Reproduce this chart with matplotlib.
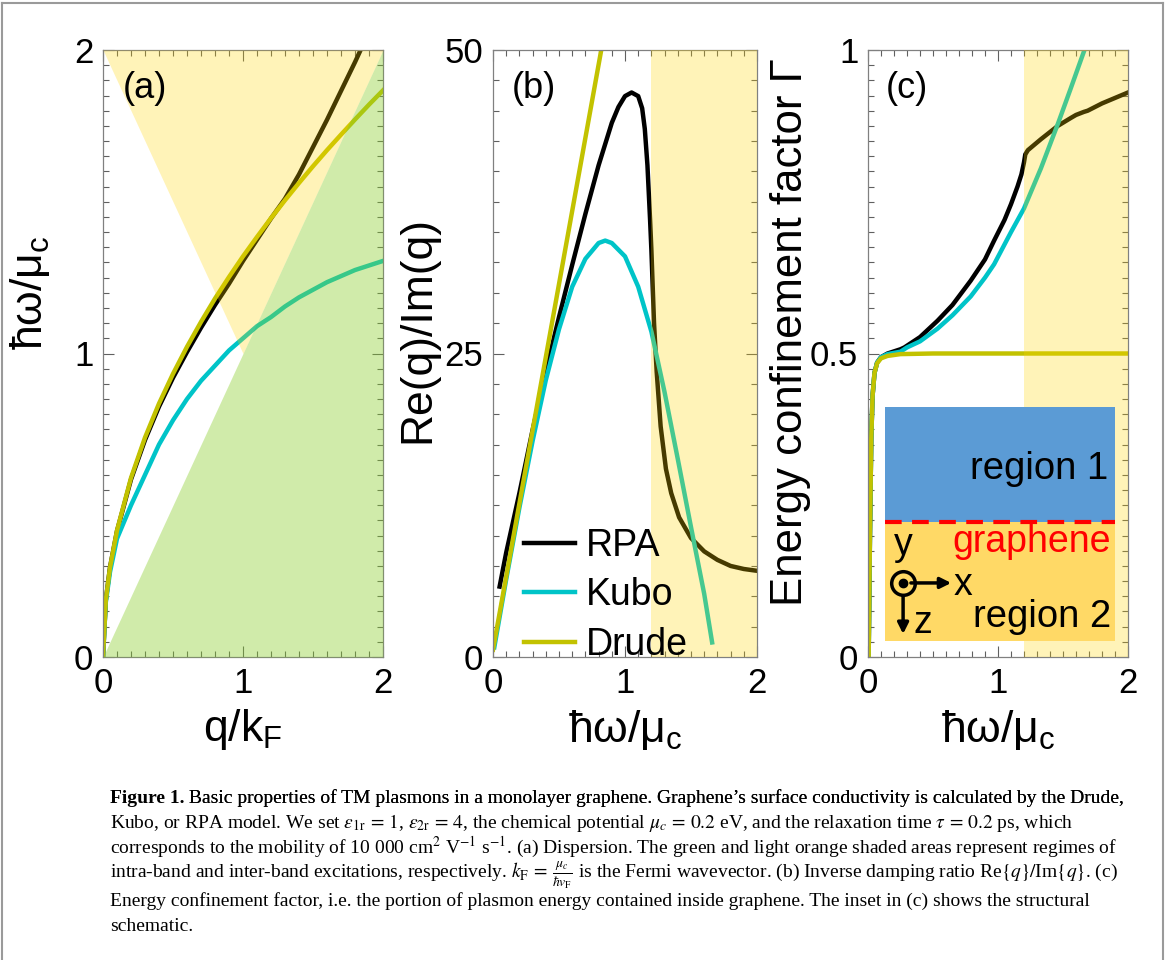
import numpy as np
import matplotlib.pyplot as plt
from matplotlib.patches import Rectangle
from matplotlib.lines import Line2D
from matplotlib.ticker import MultipleLocator, FuncFormatter

plt.rcParams['font.family'] = ['Liberation Sans', 'DejaVu Sans']
plt.rcParams['mathtext.fontset'] = 'custom'
plt.rcParams['mathtext.rm'] = 'Liberation Sans'
plt.rcParams['mathtext.it'] = 'Liberation Sans:italic'
plt.rcParams['mathtext.bf'] = 'Liberation Sans:bold'

# (a) dispersion, q/kF vs hbar*omega/mu_c
q_a = [0, 0.02, 0.05, 0.1, 0.2, 0.3, 0.4, 0.5, 0.6, 0.7, 0.8, 0.9, 1.0,
       1.1, 1.2, 1.3, 1.4, 1.5, 1.6, 1.7, 1.8, 1.9, 2.0]
drude_a = [0, 0.187, 0.295, 0.417, 0.59, 0.723, 0.835, 0.933, 1.022, 1.104, 1.181,
           1.252, 1.32, 1.384, 1.446, 1.505, 1.562, 1.617, 1.67, 1.721, 1.771, 1.82, 1.867]
rpa_a = [0, 0.187, 0.295, 0.415, 0.585, 0.715, 0.825, 0.92, 1.005, 1.085, 1.16,
         1.23, 1.305, 1.375, 1.445, 1.51, 1.59, 1.68, 1.77, 1.865, 1.96, 2.06, 2.16]
kubo_a = [0, 0.18, 0.28, 0.39, 0.5, 0.6, 0.7, 0.78, 0.85, 0.91, 0.96, 1.01, 1.05,
          1.09, 1.12, 1.155, 1.185, 1.21, 1.235, 1.255, 1.275, 1.29, 1.305]

# (b) inverse damping ratio Re(q)/Im(q)
w_rpa_b = [0.05, 0.1, 0.2, 0.3, 0.4, 0.5, 0.6, 0.7, 0.8, 0.9, 0.95, 1.0, 1.05, 1.1,
           1.13, 1.15, 1.17, 1.19, 1.2, 1.21, 1.22, 1.24, 1.27, 1.31, 1.35, 1.41,
           1.5, 1.6, 1.7, 1.8, 1.9, 2.0]
rpa_b = [5.8, 8.6, 13.5, 18.7, 23.5, 28.0, 32.3, 36.5, 40.5, 44.0, 45.3, 46.2, 46.5,
         46.2, 45.2, 43.5, 40.5, 36.0, 33.5, 30.5, 27.5, 23.5, 19.0, 15.5, 13.5, 11.5,
         9.8, 8.7, 8.0, 7.5, 7.25, 7.1]
w_kubo_b = [0.01, 0.1, 0.2, 0.3, 0.4, 0.5, 0.6, 0.7, 0.8, 0.85, 0.9, 1.0, 1.1, 1.2,
            1.3, 1.4, 1.5, 1.6, 1.66]
kubo_b = [0.8, 6.4, 12.3, 17.8, 22.8, 27.0, 30.5, 32.8, 34.1, 34.3, 34.1, 33.0, 30.5,
          26.8, 21.8, 16.3, 10.7, 5.2, 1.2]
w_drude_b = [0.0, 0.85]
drude_b = [0.6, 51.8]

# (c) energy confinement factor
w_c = [0.005, 0.015, 0.025, 0.035, 0.05, 0.07, 0.1, 0.15, 0.25, 0.28, 0.4, 0.535,
       0.65, 0.79, 0.9, 0.97, 1.05, 1.1, 1.15, 1.18, 1.2, 1.21, 1.23, 1.33, 1.46,
       1.56, 1.6, 1.66, 1.69, 1.8, 2.0]
rpa_c = [0.0, 0.2, 0.36, 0.43, 0.468, 0.485, 0.494, 0.5, 0.507, 0.51, 0.527, 0.554,
         0.58, 0.62, 0.655, 0.686, 0.72, 0.746, 0.775, 0.795, 0.815, 0.828, 0.835,
         0.853, 0.875, 0.888, 0.893, 0.898, 0.90, 0.912, 0.93]
w_kubo_c = [0.005, 0.015, 0.025, 0.035, 0.05, 0.07, 0.1, 0.15, 0.25, 0.3, 0.4, 0.535,
            0.65, 0.79, 0.9, 0.97, 1.1, 1.2, 1.33, 1.46, 1.56, 1.66]
kubo_c = [0.0, 0.2, 0.36, 0.43, 0.468, 0.485, 0.494, 0.499, 0.503, 0.51, 0.52, 0.541,
          0.563, 0.594, 0.625, 0.647, 0.70, 0.739, 0.805, 0.878, 0.937, 0.997]
w_drude_c = [0.005, 0.015, 0.025, 0.035, 0.05, 0.07, 0.1, 0.15, 0.25, 0.5, 1.0, 2.0]
drude_c = [0.0, 0.2, 0.36, 0.43, 0.468, 0.484, 0.492, 0.496, 0.499, 0.5, 0.5, 0.5]

labels = ['RPA', 'Kubo', 'Drude']
c_rpa, c_kubo, c_drude = 'black', '#00C4C8', '#C2C200'
shade_y, shade_g = '#FFD400', '#8ACF2C'
lw = 3.2

fig = plt.figure(figsize=(11.71, 9.6), dpi=100)
W, H = 1171, 960


def add_ax(l, r, t=50, b=657):
    return fig.add_axes([l / W, 1 - b / H, (r - l) / W, (b - t) / H])


def style(ax, ylim, ymaj, ymin):
    ax.set_xlim(0, 2)
    ax.set_ylim(*ylim)
    ax.xaxis.set_major_locator(MultipleLocator(1))
    ax.xaxis.set_minor_locator(MultipleLocator(0.1))
    ax.yaxis.set_major_locator(MultipleLocator(ymaj))
    ax.yaxis.set_minor_locator(MultipleLocator(ymin))
    ax.yaxis.set_major_formatter(FuncFormatter(lambda v, _: f'{v:g}'))
    ax.tick_params(which='both', direction='in', top=True, right=True,
                   color='#606060', width=0.8)
    ax.tick_params(which='major', length=8, labelsize=25, pad=7)
    ax.tick_params(which='minor', length=4)
    for s in ax.spines.values():
        s.set_color('#808080')
        s.set_linewidth(0.9)


xlab = 'ħω/μ$_\\mathrm{c}$'

# ---- (a)
ax1 = add_ax(103, 383)
ax1.plot(q_a, rpa_a, color=c_rpa, lw=lw, zorder=2)
ax1.plot(q_a, kubo_a, color=c_kubo, lw=lw, zorder=2)
ax1.plot(q_a, drude_a, color=c_drude, lw=lw, zorder=2)
qq = np.array([0, 1, 2])
ax1.fill_between(qq, np.maximum(qq, 2 - qq), 2, color=shade_y, alpha=0.28, lw=0, zorder=3)
ax1.fill_between(qq, 0, qq, color=shade_g, alpha=0.4, lw=0, zorder=3)
style(ax1, (0, 2), 1, 0.05)
ax1.set_xlabel('q/k$_\\mathrm{F}$', fontsize=32, va='center')
ax1.set_ylabel(xlab, fontsize=32, va='center')
ax1.xaxis.set_label_coords(0.5, -0.12)
ax1.yaxis.set_label_coords(-0.26, 0.6)
ax1.text(0.07, 0.965, '(a)', transform=ax1.transAxes, fontsize=26, va='top', zorder=6)

# ---- (b)
ax2 = add_ax(493, 757)
ax2.plot(w_rpa_b, rpa_b, color=c_rpa, lw=lw, zorder=2, label=labels[0])
ax2.plot(w_kubo_b, kubo_b, color=c_kubo, lw=lw, zorder=2, label=labels[1])
ax2.plot(w_drude_b, drude_b, color=c_drude, lw=lw, zorder=2, label=labels[2])
ax2.axvspan(1.2, 2, color=shade_y, alpha=0.28, lw=0, zorder=3)
style(ax2, (0, 50), 25, 2.5)
ax2.set_xlabel(xlab, fontsize=32, va='center')
ax2.set_ylabel('Re(q)/Im(q)', fontsize=32, va='center')
ax2.xaxis.set_label_coords(0.5, -0.12)
ax2.yaxis.set_label_coords(-0.285, 0.54)
ax2.text(0.07, 0.965, '(b)', transform=ax2.transAxes, fontsize=26, va='top', zorder=6)
leg = ax2.legend(loc='lower left', bbox_to_anchor=(-0.01, -0.065), frameon=False,
                 fontsize=27, handlelength=1.35, handletextpad=0.3, labelspacing=0.36)
leg.set_zorder(6)

# ---- (c)
ax3 = add_ax(868, 1128)
ax3.plot(w_c, rpa_c, color=c_rpa, lw=lw, zorder=2)
ax3.plot(w_kubo_c, kubo_c, color=c_kubo, lw=lw, zorder=2)
ax3.plot(w_drude_c, drude_c, color=c_drude, lw=lw, zorder=2)
ax3.axvspan(1.2, 2, color=shade_y, alpha=0.28, lw=0, zorder=3)
style(ax3, (0, 1), 0.5, 0.025)
ax3.set_xlabel(xlab, fontsize=32, va='center')
ax3.set_ylabel('Energy confinement factor Γ', fontsize=31.5, va='center')
ax3.xaxis.set_label_coords(0.5, -0.12)
ax3.yaxis.set_label_coords(-0.3, 0.535)
ax3.text(0.07, 0.965, '(c)', transform=ax3.transAxes, fontsize=26, va='top', zorder=6)

# inset schematic
ax3.add_patch(Rectangle((0.13, 0.222), 1.77, 0.19, fc='#5B9BD5', ec='none', zorder=4))
ax3.add_patch(Rectangle((0.13, 0.026), 1.77, 0.196, fc='#FFD966', ec='none', zorder=4))
ax3.plot([0.13, 1.9], [0.222, 0.222], color='red', lw=3, ls=(0, (4, 2.5)), zorder=5)
ax3.text(1.85, 0.31, 'region 1', fontsize=27.5, ha='right', va='center', zorder=6)
ax3.text(1.87, 0.19, 'graphene', fontsize=27, ha='right', va='center', color='red', zorder=6)
ax3.text(1.87, 0.066, 'region 2', fontsize=27.5, ha='right', va='center', zorder=6)
ax3.text(0.27, 0.185, 'y', fontsize=27, ha='center', va='center', zorder=6)
ax3.plot(0.27, 0.122, 'o', ms=17, mfc='none', mec='k', mew=2.5, zorder=6)
ax3.plot(0.27, 0.122, 'o', ms=6, color='k', zorder=6)
ax3.annotate('', xy=(0.64, 0.122), xytext=(0.33, 0.122), zorder=6,
             arrowprops=dict(arrowstyle='-|>', color='k', lw=2.5, mutation_scale=16,
                             shrinkA=0, shrinkB=0))
ax3.annotate('', xy=(0.27, 0.038), xytext=(0.27, 0.1), zorder=6,
             arrowprops=dict(arrowstyle='-|>', color='k', lw=2.5, mutation_scale=16,
                             shrinkA=0, shrinkB=0))
ax3.text(0.66, 0.118, 'x', fontsize=27, ha='left', va='center', zorder=6)
ax3.text(0.42, 0.056, 'z', fontsize=27, ha='center', va='center', zorder=6)

# frame around the figure
for xs, ys in [((2, 2), (3, 960)), ((1163, 1163), (3, 960)), ((2, 1163), (3, 3))]:
    fig.add_artist(Line2D([x / W for x in xs], [1 - y / H for y in ys],
                          color='#9a9a9a', lw=1.5))

# caption
cap = dict(fontfamily='Liberation Serif', fontsize=14, math_fontfamily='stix')
t0 = fig.text(110 / W, 1 - 803 / H, 'Figure 1.', fontweight='bold', va='baseline', **cap)
t1 = plt.annotate(' Basic properties of TM plasmons in a monolayer graphene. '
                  'Graphene\u2019s surface conductivity is calculated by the Drude,',
                  xy=(1, 0), xycoords=t0, annotation_clip=False, va='bottom', **cap)
fig.add_artist(t1)
lines = [
    'Kubo, or RPA model. We set $\\varepsilon_{1\\mathrm{r}}\\,=\\,1$, '
    '$\\varepsilon_{2\\mathrm{r}}\\,=\\,4$, the chemical potential $\\mu_c\\,=\\,0.2$ eV, '
    'and the relaxation time $\\tau\\,=\\,0.2$ ps, which',
    'corresponds to the mobility of 10 000 cm$^2$ V$^{-1}$ s$^{-1}$. (a) Dispersion. '
    'The green and light orange shaded areas represent regimes of',
    'intra-band and inter-band excitations, respectively. '
    '$k_\\mathrm{F}\\,=\\,\\frac{\\mu_c}{\\hbar v_\\mathrm{F}}$ is the Fermi wavevector. '
    '(b) Inverse damping ratio Re$\\{q\\}/$Im$\\{q\\}$. (c)',
    'Energy confinement factor, i.e. the portion of plasmon energy contained inside '
    'graphene. The inset in (c) shows the structural',
    'schematic.',
]
for y, s in zip([828, 853, 878, 906, 931], lines):
    fig.text(110 / W, 1 - y / H, s, va='baseline', **cap)

fig.savefig('out.png', dpi=100)
